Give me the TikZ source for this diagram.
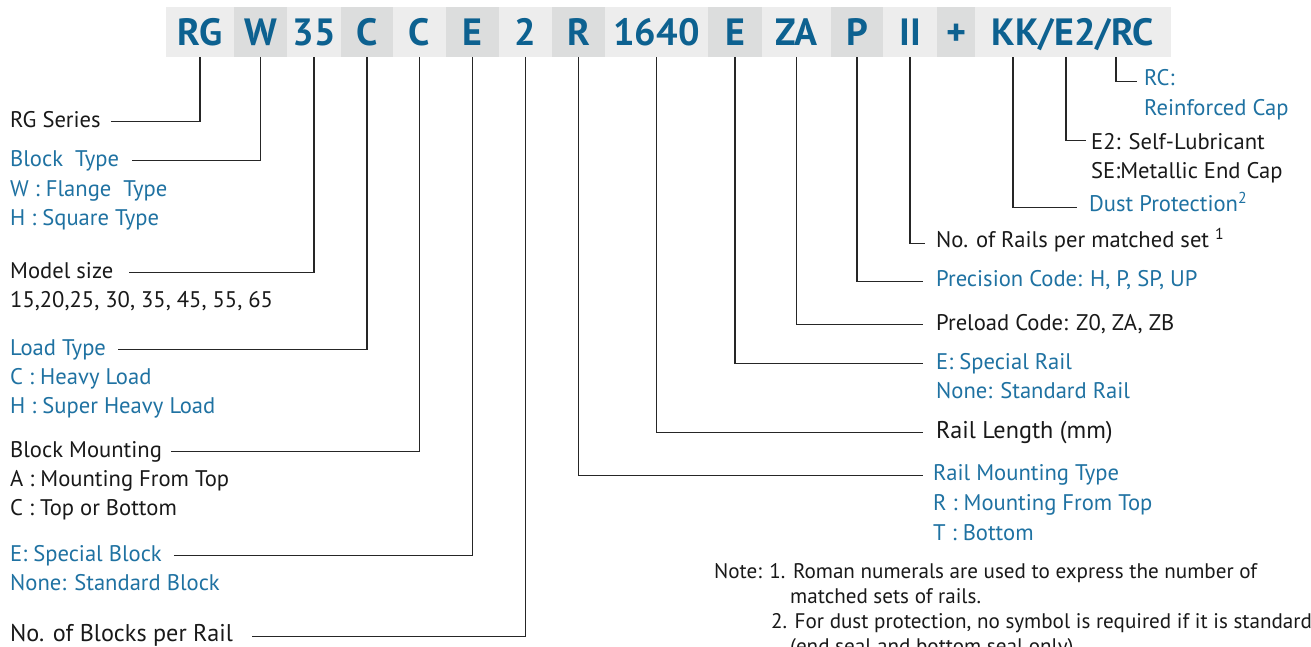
\documentclass[tikz,border=0pt]{standalone}
\usepackage{fontspec}
\setmainfont{PT Sans}
\definecolor{hdrblue}{HTML}{0D6190}
\definecolor{txtblue}{HTML}{1F72A2}
\definecolor{segL}{HTML}{EDEDED}
\definecolor{segD}{HTML}{DCDDDD}
\begin{document}
\begin{tikzpicture}[x=1pt,y=-1pt,
  seg/.style={minimum height=50pt, inner sep=0pt, text height=27pt, text depth=0pt,
    font=\fontsize{38}{40}\selectfont\bfseries, text=hdrblue, anchor=center},
  segl/.style={seg, fill=segL},
  segd/.style={seg, fill=segD},
  lbl/.style={anchor=base west, inner sep=0pt, text height=15pt, text depth=4pt,
    font=\fontsize{22.6}{25}\selectfont, text=black!90},
  blu/.style={lbl, text=txtblue},
  big/.style={lbl, font=\fontsize{24.2}{27}\selectfont},
  note/.style={lbl, font=\fontsize{21.1}{24}\selectfont},
  lead/.style={draw=black!85, line width=1.1pt},
]
\useasboundingbox (0,0) rectangle (1311,646);
\fill[white] (0,0) rectangle (1311,646);

% ---- header code ----
\node[segl, minimum width=68pt]  (rg)   at (200,32)   {RG};
\node[segd, minimum width=53pt]  (w)    at (260.5,32) {W};
\node[segl, minimum width=54pt]  (sz)   at (314,32)   {35};
\node[segd, minimum width=52pt]  (c1)   at (367,32)   {C};
\node[segl, minimum width=53pt]  (c2)   at (419.5,32) {C};
\node[segd, minimum width=53pt]  (e1)   at (472.5,32) {E};
\node[segl, minimum width=53pt]  (two)  at (525.5,32) {2};
\node[segd, minimum width=53pt]  (r)    at (578.5,32) {R};
\node[segl, minimum width=103pt] (len)  at (656.5,32) {1640};
\node[segd, minimum width=54pt]  (e2)   at (735,32)   {E};
\node[segl, minimum width=69pt]  (za)   at (796.5,32) {ZA};
\node[segd, minimum width=52pt]  (p)    at (857,32)   {P};
\node[segl, minimum width=54pt]  (ii)   at (910,32)   {II};
\node[segd, minimum width=38pt]  (plus) at (956,32)   {+};
\node[segl, minimum width=196pt] (kk)   at (1073,32)  {KK/E2/RC};
\coordinate (kkx) at (1013,57);
\coordinate (e2x) at (1066,57);
\coordinate (rcx) at (1116,57);

% ---- left labels ----
\node[lbl] (rgs)  at (10,127) {RG Series};
\node[blu] (bt)   at (10,166) {Block\ \ Type};
\node[blu] (bt1)  at (10,196) {W : Flange\ \ Type};
\node[blu] (bt2)  at (10,225) {H : Square Type};
\node[lbl] (ms)   at (10,278) {Model size};
\node[lbl] (ms1)  at (10,307) {15,20,25, 30, 35, 45, 55, 65};
\node[blu] (lt)   at (10,355) {Load Type};
\node[blu] (lt1)  at (10,384) {C : Heavy Load};
\node[blu] (lt2)  at (10,413) {H : Super Heavy Load};
\node[lbl] (bm)   at (10,457) {Block Mounting};
\node[lbl] (bm1)  at (10,486) {A : Mounting From Top};
\node[lbl] (bm2)  at (10,515) {C : Top or Bottom};
\node[blu] (sb)   at (10,561) {E: Special Block};
\node[blu] (sb1)  at (10,590) {None: Standard Block};
\node[big] (nb)   at (10,641) {No. of Blocks per Rail};

\draw[lead] ([xshift=10pt]rgs.east) -| (rg.south);
\draw[lead] ([xshift=13pt]bt.east) -| (w.south);
\draw[lead] ([xshift=16pt]ms.east) -| (sz.south);
\draw[lead] ([xshift=12pt]lt.east) -| (c1.south);
\draw[lead] ([xshift=9pt]bm.east) -| (c2.south);
\draw[lead] ([xshift=12pt]sb.east) -| (e1.south);
\draw[lead] ([xshift=19pt,yshift=-1pt]nb.east) -| (two.south);

% ---- right labels ----
\node[blu] (rc)   at (1144,85)  {RC:};
\node[blu] (rc1)  at (1144,115) {Reinforced Cap};
\node[lbl] (sl)   at (1091,149) {E2: Self-Lubricant};
\node[lbl] (sl1)  at (1091,178) {SE:Metallic End Cap};
\node[blu] (dp)   at (1089,211) {Dust Protection\textsuperscript{2}};
\node[lbl] (nr)   at (936,247)  {No. of Rails per matched set \textsuperscript{1}};
\node[blu] (pc)   at (936,286)  {Precision Code: H, P, SP, UP};
\node[lbl] (pl)   at (936,330)  {Preload Code: Z0, ZA, ZB};
\node[blu] (sr)   at (936,369)  {E: Special Rail};
\node[blu] (sr1)  at (936,398)  {None: Standard Rail};
\node[big] (rl)   at (936,438)  {Rail Length (mm)};
\node[blu] (rm)   at (933,480)  {Rail Mounting Type};
\node[blu] (rm1)  at (933,510)  {R : Mounting From Top};
\node[blu] (rm2)  at (933,540)  {T : Bottom};

\draw[lead] (rcx) |- ([xshift=-7pt,yshift=-2pt]rc.west);
\draw[lead] (e2x) |- ([xshift=-5pt,yshift=3pt]sl.west);
\draw[lead] (kkx) |- ([xshift=-12pt,yshift=-2pt]dp.west);
\draw[lead] (ii.south) |- ([xshift=-11pt,yshift=-2pt]nr.west);
\draw[lead] (p.south) |- ([xshift=-13pt,yshift=-1pt]pc.west);
\draw[lead] (za.south) |- ([xshift=-13pt]pl.west);
\draw[lead] (e2.south) |- ([xshift=-13pt]sr.west);
\draw[lead] (len.south) |- ([xshift=-13pt]rl.west);
\draw[lead] (r.south) |- ([xshift=-10pt,yshift=-1pt]rm.west);

% ---- note ----
\node[note] (n1) at (714,578) {Note: 1. Roman numerals are used to express the number of};
\node[note] (n2) at (790,603) {matched sets of rails.};
\node[note] (n3) at (771,628) {2. For dust protection, no symbol is required if it is standard};
\node[note] (n4) at (790,653) {(end seal and bottom seal only)};
\end{tikzpicture}
\end{document}
